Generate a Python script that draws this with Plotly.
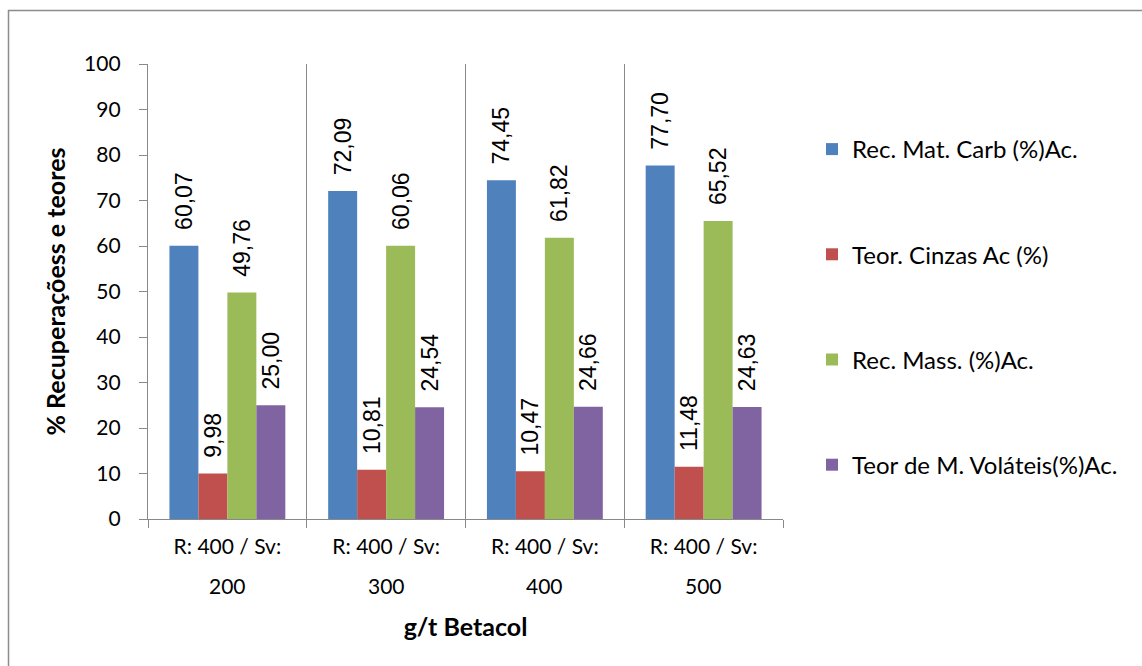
import plotly.graph_objects as go

categories = ["R: 400 / Sv: 200", "R: 400 / Sv: 300", "R: 400 / Sv: 400", "R: 400 / Sv: 500"]
label_line1 = ["R: 400 / Sv:", "R: 400 / Sv:", "R: 400 / Sv:", "R: 400 / Sv:"]
label_line2 = ["200", "300", "400", "500"]
series_names = ["Rec. Mat. Carb (%)Ac.", "Teor. Cinzas Ac (%)", "Rec. Mass. (%)Ac.", "Teor de M. Voláteis(%)Ac."]
rec_mat_carb = [60.07, 72.09, 74.45, 77.70]
teor_cinzas = [9.98, 10.81, 10.47, 11.48]
rec_mass = [49.76, 60.06, 61.82, 65.52]
teor_volateis = [25.00, 24.54, 24.66, 24.63]
colors = ["#4F81BD", "#C0504D", "#9BBB59", "#8064A2"]
y_ticks = [0, 10, 20, 30, 40, 50, 60, 70, 80, 90, 100]

all_series = [rec_mat_carb, teor_cinzas, rec_mass, teor_volateis]

fig = go.Figure()
for i, (name, vals) in enumerate(zip(series_names, all_series)):
    fig.add_trace(go.Bar(
        x=categories, y=vals, name=name,
        marker=dict(color=colors[i], line=dict(width=0)),
        text=["\u00a0\u00a0" + f"{v:.2f}".replace(".", ",") for v in vals],
        textposition="outside", textangle=-90, constraintext="none",
        textfont=dict(family="Liberation Sans", size=23, color="#000000"),
        cliponaxis=False,
        legendgroup=f"g{i}",
    ))

L, R, T, B = 148, 783, 64, 519
W, H = 1142, 666
pw, ph = R - L, B - T
grid_col = "#898989"

fig.update_layout(
    width=W, height=H,
    margin=dict(l=L, r=W - R, t=T, b=H - B),
    paper_bgcolor="white", plot_bgcolor="white",
    barmode="group", bargap=0.27, bargroupgap=0,
    font=dict(family="Lato", size=21, color="#000000"),
    legend=dict(x=(812 - L) / pw, xanchor="left", y=(B - 127) / ph, yanchor="top",
                font=dict(family="Lato", size=24), tracegroupgap=71,
                itemwidth=30, bgcolor="rgba(0,0,0,0)"),
    xaxis=dict(
        type="category", tickson="boundaries", showgrid=True, gridcolor=grid_col, gridwidth=1.3,
        tickmode="array", tickvals=categories, ticktext=label_line1,
        showline=True, linecolor=grid_col, linewidth=1.3,
        ticks="outside", ticklen=8, tickcolor=grid_col, ticklabelstandoff=9,
        tickfont=dict(family="Lato", size=21),
        title=dict(text="<b>g/t Betacol</b>", font=dict(family="Lato", size=25), standoff=61),
    ),
    yaxis=dict(
        range=[0, 100], tickvals=y_ticks, showgrid=False, zeroline=False,
        showline=True, linecolor=grid_col, linewidth=1.3,
        ticks="outside", ticklen=8, tickcolor=grid_col, ticklabelstandoff=14,
        tickfont=dict(family="Lato", size=21),
        title=dict(text="<b>% Recuperaçõess e teores</b>", font=dict(family="Lato", size=25), standoff=11),
    ),
)

for cat, txt in zip(categories, label_line2):
    fig.add_annotation(x=cat, xref="x", y=(B - 585) / ph, yref="paper",
                       text=txt, showarrow=False, xanchor="center", yanchor="middle",
                       font=dict(family="Lato", size=21, color="#000000"))

fig.add_shape(type="rect", xref="paper", yref="paper",
              x0=(8.5 - L) / pw, x1=(W + 20 - L) / pw,
              y0=(B - (H + 20)) / ph, y1=(B - 10.5) / ph,
              line=dict(color="#8c8c8c", width=1.5), fillcolor="rgba(0,0,0,0)", layer="below")

fig.write_html("out.html")
